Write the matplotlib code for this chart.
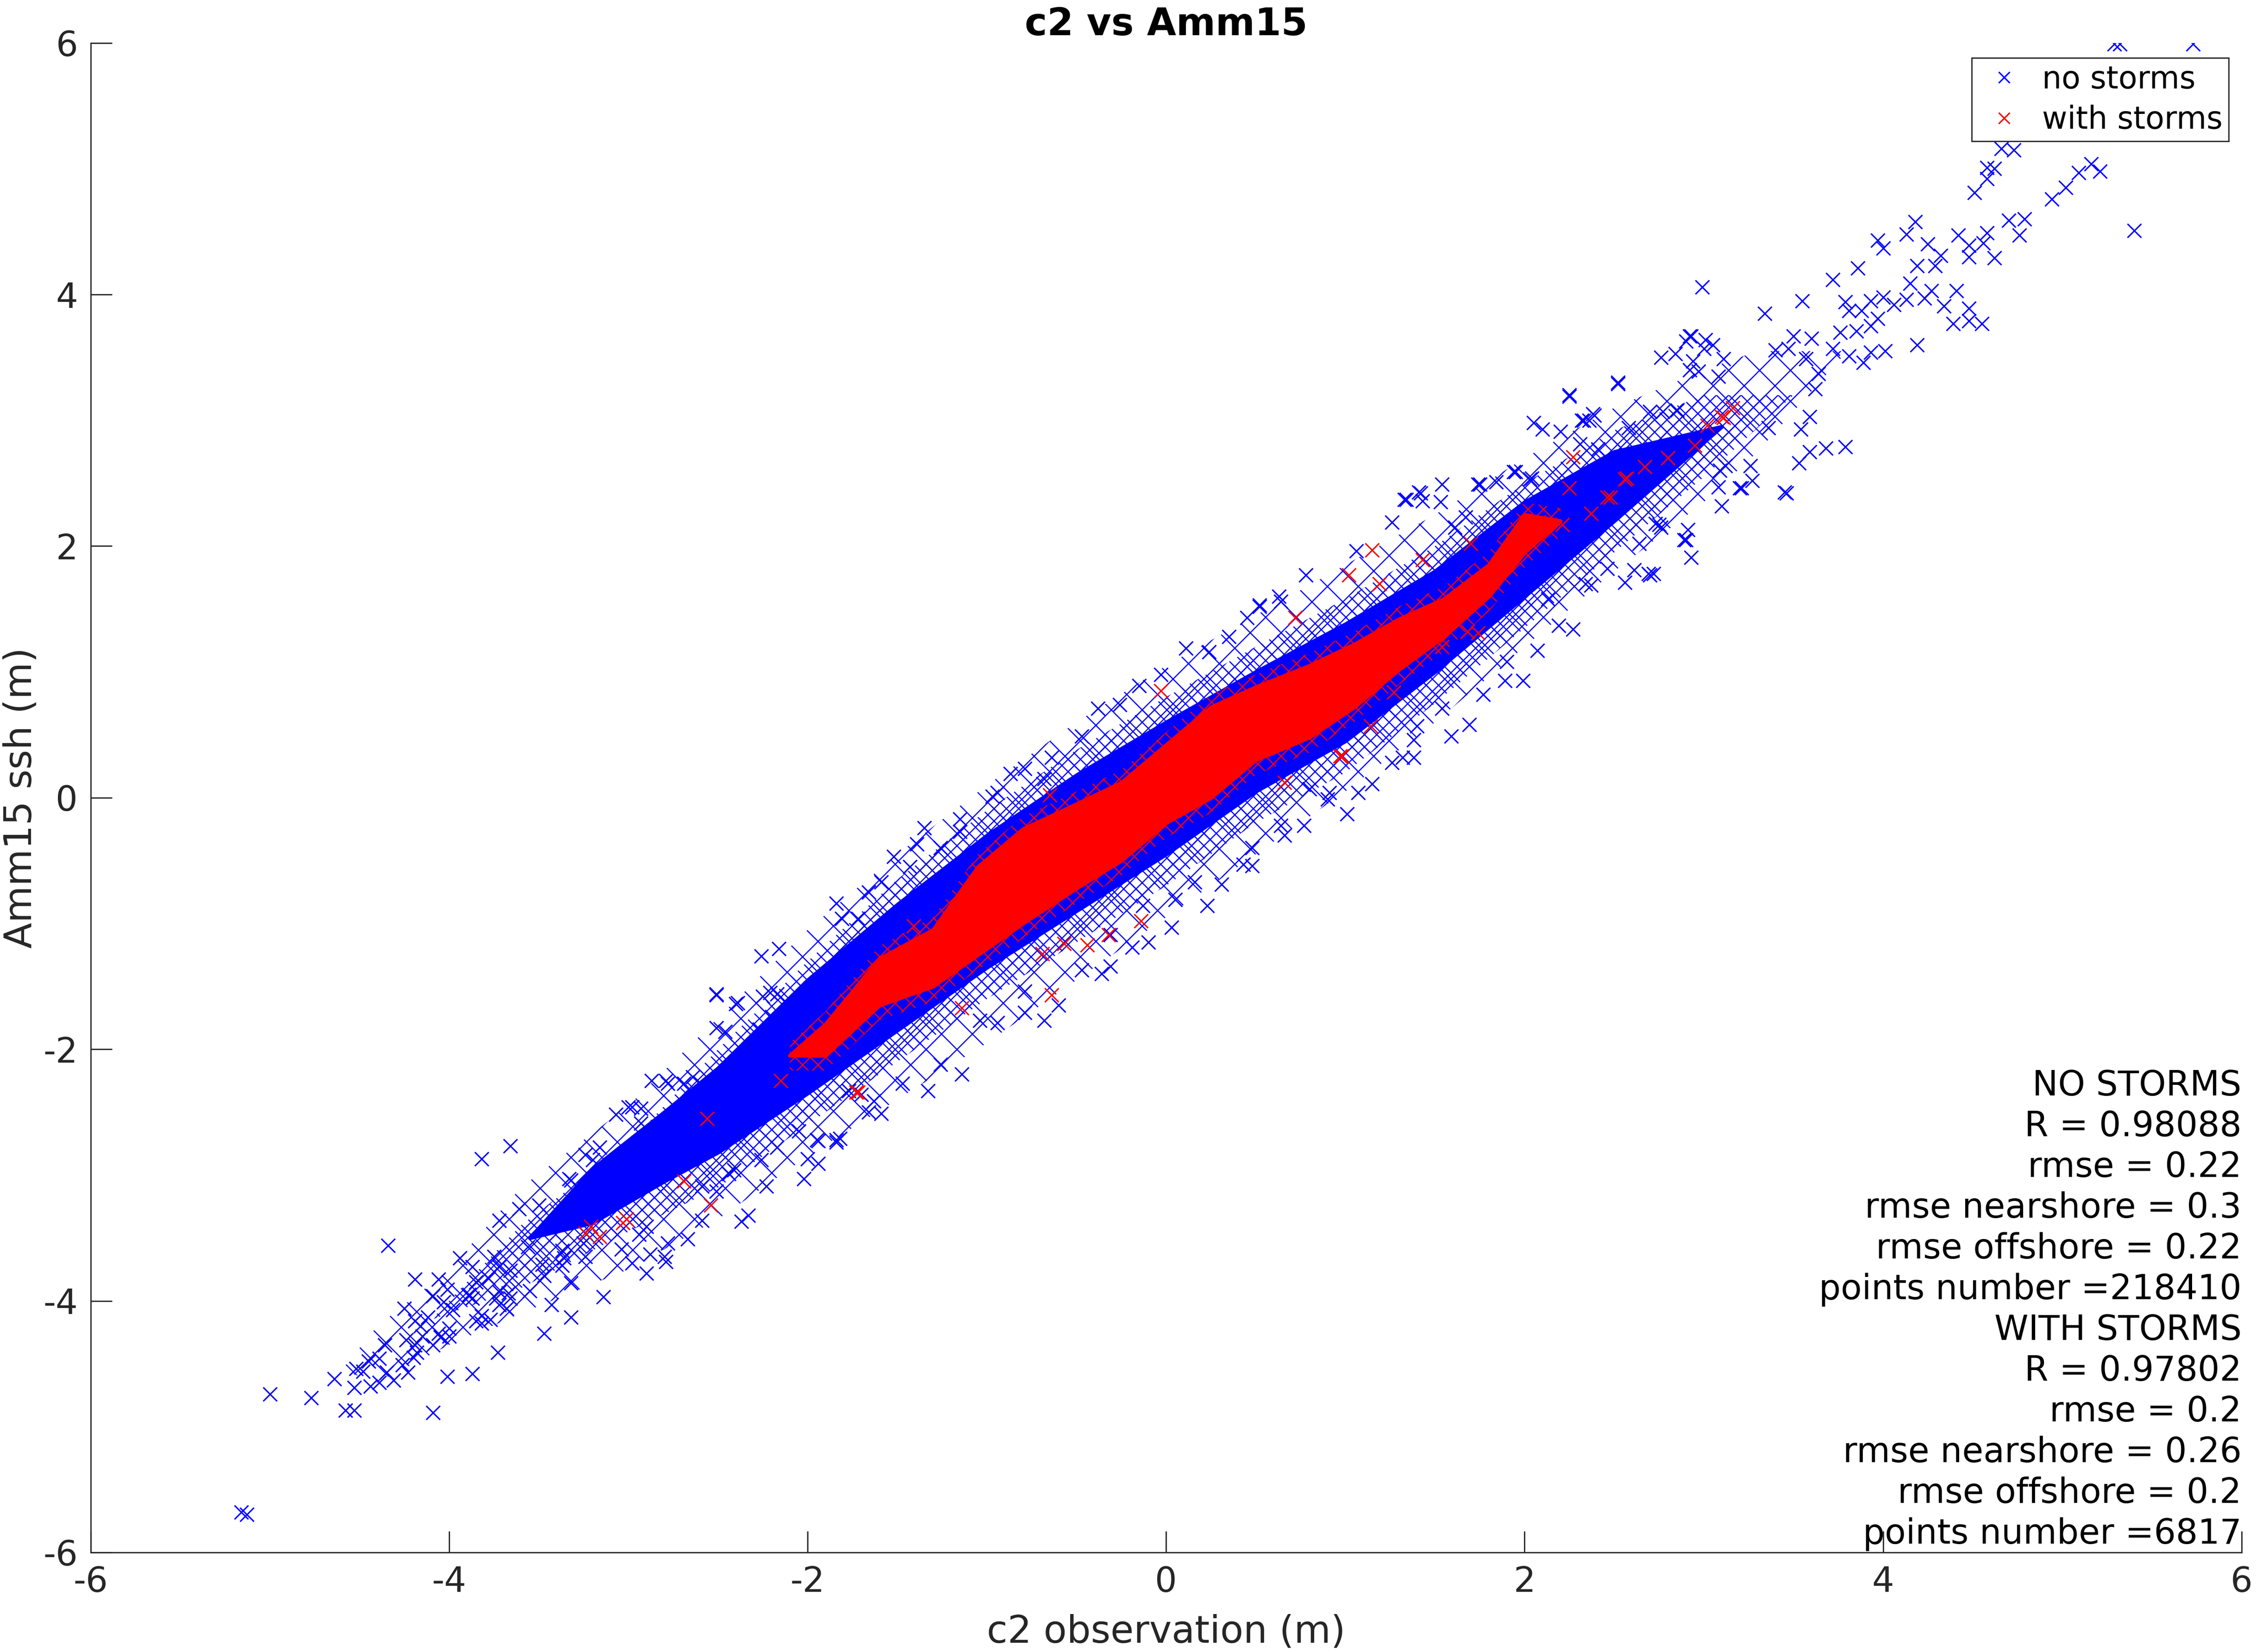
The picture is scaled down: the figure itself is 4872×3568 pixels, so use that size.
import numpy as np
import matplotlib
matplotlib.use("Agg")
import matplotlib.pyplot as plt

plt.rcParams['font.family'] = ['DejaVu Sans']
plt.rcParams['axes.unicode_minus'] = False
plt.rcParams['hatch.linewidth'] = 0.45

# ---- data ----
# edges of the "no storms" cloud (too many overlapping markers to list one by one)
outer_x = [-4.6, -4.4, -4.0, -3.6, -3.0, -2.5, -2.0, -1.5, -1.0, -0.5, 0.0, 0.5, 1.0,
           1.5, 2.0, 2.5, 3.0, 3.3, 3.8]
outer_lo = [-4.55, -4.65, -4.35, -4.1, -3.75, -3.35, -2.85, -2.4, -1.95, -1.45, -0.95, -0.45,
            0.05, 0.6, 1.2, 1.8, 2.35, 2.75, 3.55]
outer_hi = [-4.55, -4.2, -3.75, -3.1, -2.45, -1.75, -1.05, -0.45, 0.1, 0.6, 1.05, 1.45,
            1.85, 2.25, 2.7, 3.1, 3.4, 3.55, 3.55]

mid_x = [-4.1, -3.6, -3.0, -2.5, -2.0, -1.5, -1.0, -0.5, 0.0, 0.5, 1.0, 1.5, 2.0,
         2.5, 3.0, 3.5]
mid_lo = [-4.15, -3.9, -3.45, -3.1, -2.6, -2.1, -1.6, -1.15, -0.7, -0.2, 0.2, 0.75,
          1.35, 1.95, 2.55, 3.2]
mid_hi = [-4.15, -3.4, -2.75, -2.0, -1.3, -0.65, -0.1, 0.38, 0.8, 1.2, 1.58, 2.0,
          2.5, 2.92, 3.2, 3.2]

core_x = [-3.55, -3.2, -2.8, -2.5, -2.0, -1.5, -1.0, -0.5, 0.0, 0.5, 1.0, 1.5, 2.0,
          2.5, 3.1]
core_lo = [-3.5, -3.38, -3.05, -2.82, -2.35, -1.85, -1.35, -0.9, -0.45, 0.05, 0.45, 1.0,
           1.6, 2.2, 2.95]
core_hi = [-3.5, -2.95, -2.5, -2.15, -1.45, -0.85, -0.3, 0.18, 0.6, 1.0, 1.38, 1.8,
           2.35, 2.75, 2.95]

# edges of the dense "with storms" cloud
red_x = [-2.1, -1.9, -1.6, -1.3, -1.05, -0.8, -0.5, -0.25, 0.0, 0.25, 0.5, 0.8,
         1.05, 1.3, 1.55, 1.8, 2.0, 2.2]
red_lo = [-2.05, -2.05, -1.65, -1.5, -1.25, -1.0, -0.72, -0.5, -0.2, 0.0, 0.3, 0.48,
          0.72, 1.02, 1.28, 1.6, 1.95, 2.2]
red_hi = [-2.05, -1.8, -1.28, -1.05, -0.55, -0.25, -0.05, 0.12, 0.42, 0.72, 0.88, 1.05,
          1.22, 1.42, 1.58, 1.85, 2.25, 2.2]

# individual "no storms" points outside the dense part (obs, model)
blue_pts = [
    (-5.16, -5.68), (-5.13, -5.70), (-5.00, -4.74), (-4.77, -4.77), (-4.58, -4.87),
    (-4.53, -4.87), (-4.09, -4.89), (-4.64, -4.62), (-4.53, -4.69), (-4.44, -4.68),
    (-4.39, -4.65), (-4.31, -4.63), (-4.35, -4.57), (-4.52, -4.54), (-4.48, -4.56),
    (-4.45, -4.48), (-4.39, -4.46), (-4.36, -4.35), (-4.26, -4.51), (-4.23, -4.57),
    (-4.20, -4.45), (-4.18, -4.41), (-4.24, -4.31), (-4.19, -4.35), (-4.15, -4.28),
    (-4.16, -4.20), (-4.19, -4.16), (-4.12, -4.13), (-4.09, -4.35), (-4.05, -4.29),
    (-4.01, -4.60), (-3.87, -4.58), (-3.73, -4.41), (-4.00, -4.28), (-4.00, -4.22),
    (-4.06, -4.26), (-4.34, -3.56), (-4.19, -3.83), (-4.06, -3.83), (-4.09, -3.96),
    (-4.25, -4.06), (-4.01, -3.91), (-3.98, -4.07), (-4.03, -4.01), (-3.89, -3.95),
    (-3.87, -3.98), (-3.94, -3.66), (-3.87, -3.73), (-3.85, -3.85), (-3.82, -4.12),
    (-3.85, -4.16), (-3.77, -4.15), (-3.82, -4.18), (-3.74, -3.98), (-3.72, -4.03),
    (-3.67, -3.94), (-3.66, -3.98), (-3.68, -4.06), (-3.72, -3.93), (-3.78, -3.82),
    (-3.72, -3.73), (-3.75, -3.65), (-3.66, -3.76), (-3.72, -3.36), (-3.82, -2.87),
    (-3.66, -2.77), (-3.61, -3.27), (-3.55, -3.92), (-3.47, -4.26), (-3.43, -4.03),
    (-3.32, -4.13), (-3.32, -3.86), (-3.14, -3.97), (-3.56, -3.57), (-3.50, -3.24),
    (-3.48, -3.71), (-3.47, -3.80), (-3.37, -3.72), (-3.36, -3.66), (-3.37, -3.60),
    (-3.32, -3.04), (-3.24, -3.65), (-3.25, -3.54), (-3.04, -3.59), (-2.98, -3.70),
    (-2.90, -3.78), (-2.88, -3.63), (-2.80, -3.65), (-2.79, -3.69), (-2.78, -3.54),
    (-2.67, -3.51), (-2.59, -3.36), (-2.37, -3.37), (-2.33, -3.32), (-2.26, -2.88),
    (-2.23, -3.09), (-2.02, -3.03), (-1.94, -2.91), (-2.00, -2.87), (-1.84, -2.74),
    (-1.94, -2.73), (-2.17, -2.78), (-2.05, -2.65), (-2.41, -2.96), (-2.44, -2.99),
    (-2.51, -3.13), (-2.59, -3.09), (-2.94, -3.47), (-2.90, -3.41), (-3.00, -2.46),
    (-3.07, -2.52), (-2.87, -2.25), (-2.79, -2.25), (-2.51, -1.57), (-2.40, -1.64),
    (-2.25, -1.58), (-2.17, -1.56), (-2.51, -1.83), (-2.46, -1.86), (-2.27, -1.84),
    (-2.20, -1.74), (-3.16, -2.78), (-3.24, -2.84), (-3.33, -3.03), (-3.20, -2.88),
    (-2.93, -2.47), (-2.93, -2.59), (-2.78, -2.27), (-2.69, -2.27), (-2.64, -2.22),
    (-2.98, -2.46), (-1.82, -2.71), (-1.66, -2.50), (-1.70, -2.36), (-1.63, -2.41),
    (-1.77, -2.33),
    (-2.51, -1.56), (-2.39, -1.63), (-2.26, -1.26), (-2.16, -1.20), (-2.21, -1.55),
    (-1.84, -0.84), (-1.81, -0.96), (-1.72, -0.96), (-1.66, -0.75), (-1.59, -0.67),
    (-1.52, -0.47), (-1.43, -0.55), (-1.35, -0.24), (-1.39, -0.37), (-1.26, -0.40),
    (-1.15, -0.17), (-1.15, -0.27), (-0.97, 0.01), (-0.94, 0.04), (-0.87, 0.19),
    (-0.79, 0.23), (-0.64, 0.32), (-0.68, 0.15), (-0.47, 0.49), (-0.38, 0.71),
    (-0.26, 0.74), (-0.15, 0.89), (-0.03, 0.98), (0.11, 1.19), (0.24, 1.16),
    (0.35, 1.28), (0.45, 1.43), (0.52, 1.53), (0.64, 1.56),
    (-1.14, -2.20), (-1.26, -2.12), (-1.33, -2.33), (-1.47, -2.27), (-1.59, -2.51),
    (-1.84, -2.72), (-1.95, -2.72), (-0.79, -1.71), (-0.68, -1.77), (-0.60, -1.65),
    (-0.94, -1.79), (-1.04, -1.77), (-0.36, -1.40), (-0.31, -1.34), (-0.19, -1.19),
    (-0.10, -1.15), (0.03, -1.03), (0.23, -0.86), (0.31, -0.69), (0.43, -0.53),
    (0.48, -0.54), (0.66, -0.30), (0.77, -0.22), (0.90, -0.01), (0.91, 0.04),
    (1.07, 0.04), (1.15, 0.11), (1.26, 0.28), (1.32, 0.32), (1.38, 0.46),
    (1.40, 0.57), (0.16, -0.67), (0.05, -0.81), (-0.13, -0.86), (-0.31, -1.09),
    (-0.47, -1.37), (-0.79, -1.54), (0.48, -0.40), (0.64, -0.22), (1.01, -0.13),
    (0.80, 0.07),
    (2.76, 3.50), (2.84, 3.53), (2.93, 3.67), (2.52, 3.30), (2.25, 3.20),
    (2.05, 2.98), (2.10, 2.93), (2.20, 2.91), (2.33, 3.00), (2.38, 3.05),
    (1.54, 2.49), (1.34, 2.37), (1.42, 2.42), (1.26, 2.19), (1.06, 1.96),
    (0.78, 1.77), (0.63, 1.60), (0.52, 1.52), (1.84, 2.51), (1.74, 2.49),
    (1.95, 2.59), (2.03, 2.53), (1.61, 2.15), (1.67, 2.23),
    (2.93, 1.91), (2.89, 2.05), (2.91, 2.13), (3.10, 2.32), (3.21, 2.46),
    (3.27, 2.52), (3.45, 2.43), (2.70, 1.77), (2.56, 1.71), (2.64, 2.02),
    (2.75, 2.17), (2.27, 1.34), (2.19, 1.37), (2.07, 1.17), (1.99, 0.93),
    (1.89, 0.93), (1.77, 0.82), (1.69, 0.58), (1.59, 0.49), (1.38, 0.32),
    (1.54, 0.71), (1.90, 1.08), (2.13, 1.58), (2.37, 1.69), (2.46, 1.82),
    (2.34, 1.70), (2.61, 1.81), (2.72, 1.78),
    (5.32, 5.99), (5.29, 5.99), (5.73, 5.99), (4.66, 5.16), (4.73, 5.15),
    (4.58, 5.01), (4.62, 5.00), (4.58, 4.92), (4.51, 4.81), (5.16, 5.04),
    (5.09, 4.97), (5.21, 4.98), (5.02, 4.85), (4.94, 4.76), (5.40, 4.51),
    (4.70, 4.59), (4.79, 4.60), (4.76, 4.47), (4.18, 4.58), (4.13, 4.48),
    (3.97, 4.43), (4.00, 4.37), (4.25, 4.40), (4.42, 4.47), (4.58, 4.49),
    (4.56, 4.41), (4.48, 4.39), (4.48, 4.30), (4.32, 4.31), (4.62, 4.29),
    (4.19, 4.23), (4.29, 4.23), (3.86, 4.21), (3.72, 4.12), (4.15, 4.09),
    (4.27, 4.03), (4.41, 4.03), (4.23, 3.97), (4.34, 3.91), (4.48, 3.89),
    (4.39, 3.77), (4.48, 3.79), (4.55, 3.77), (4.19, 3.60), (3.93, 3.95),
    (4.00, 3.98), (4.06, 3.92), (4.13, 3.96), (3.79, 3.94), (3.81, 3.87),
    (3.88, 3.87), (3.97, 3.81), (3.93, 3.75), (3.55, 3.95), (3.34, 3.85),
    (2.99, 4.06), (2.52, 3.29), (2.25, 3.19), (2.92, 3.67), (2.90, 3.63),
    (3.01, 3.64), (3.05, 3.60), (3.00, 3.57), (2.94, 3.47), (3.11, 3.49),
    (2.92, 3.40), (2.97, 3.39), (3.08, 3.35), (3.50, 3.67), (3.60, 3.65),
    (3.40, 3.56), (3.47, 3.57), (3.72, 3.57), (3.76, 3.70), (3.85, 3.71),
    (3.81, 3.51), (3.93, 3.54), (4.01, 3.55), (3.89, 3.46), (3.57, 3.49),
    (3.64, 3.37), (3.62, 3.25), (3.59, 3.03), (3.54, 2.93), (3.36, 2.94),
    (3.59, 2.75), (3.68, 2.78), (3.79, 2.79), (3.53, 2.66), (3.46, 2.42),
    (3.26, 2.64), (3.20, 2.46), (3.09, 2.60), (3.12, 2.64), (3.08, 2.47),
    (2.90, 2.05), (2.76, 2.15), (2.73, 2.18), (2.69, 1.78), (2.32, 3.00),
    (2.39, 3.04), (2.36, 3.00), (2.70, 3.07), (2.77, 3.07), (2.85, 3.08),
    (2.58, 2.94), (1.94, 2.59), (2.04, 2.54), (1.75, 2.49), (1.41, 2.43),
    (1.43, 2.36), (1.53, 2.35), (1.33, 2.37), (2.31, 2.81), (2.41, 2.77),
]

# individual "with storms" points
red_pts = [
    (-2.54, -3.24), (-2.69, -3.05), (-3.21, -3.41), (-3.16, -3.49), (-3.24, -3.46),
    (-3.03, -3.38), (-3.01, -3.35), (-2.56, -2.55), (-2.15, -2.25), (-1.73, -2.34),
    (-0.64, -1.57), (-1.72, -2.34), (-1.14, -1.67), (-0.57, -1.16), (-0.44, -1.17),
    (-0.32, -1.09), (-0.69, -1.24), (-0.14, -0.98), (1.14, 0.57), (0.98, 0.33),
    (0.66, 0.12), (-0.03, 0.85), (-0.65, 0.02), (-1.41, -1.02), (2.27, 2.71),
    (3.16, 3.10), (3.11, 3.02), (3.02, 2.96), (2.80, 2.70), (2.67, 2.63),
    (2.57, 2.54), (2.48, 2.39), (2.25, 2.46), (2.21, 2.17), (2.04, 2.16),
    (2.08, 2.19), (1.15, 1.97), (1.02, 1.77), (1.19, 1.70), (0.72, 1.43),
    (1.43, 1.89), (1.70, 2.02), (2.95, 2.80), (3.10, 3.03), (2.56, 2.53),
    (2.46, 2.39), (2.37, 2.26), (1.74, 1.31), (1.68, 1.32), (1.54, 1.20),
    (1.27, 0.84), (0.97, 0.33), (2.03, 2.12), (2.09, 2.17),
]

stats_lines = ["NO STORMS", "R = 0.98088", "rmse = 0.22", "rmse nearshore = 0.3",
               "rmse offshore = 0.22", "points number =218410", "WITH STORMS",
               "R = 0.97802", "rmse = 0.2", "rmse nearshore = 0.26",
               "rmse offshore = 0.2", "points number =6817"]

BLUE = (0, 0, 1)
RED = (1, 0, 0)
DARK = '#262626'

fig = plt.figure(figsize=(12.18, 8.92), dpi=400)
ax = fig.add_axes([0.0402, 0.0603, 0.9534, 0.9137])

# no storms: sparse fringe, medium zone, solid core
ax.fill_between(outer_x, outer_lo, outer_hi, facecolor='none', edgecolor=BLUE,
                hatch='xx', linewidth=0)
ax.fill_between(mid_x, mid_lo, mid_hi, facecolor='none', edgecolor=BLUE,
                hatch='xxxxx', linewidth=0)
ax.fill_between(core_x, core_lo, core_hi, facecolor=BLUE, edgecolor=BLUE, linewidth=1.5)

bx, by = np.array(blue_pts).T
ax.plot(bx, by, 'x', color=BLUE, ms=5.5, mew=0.55, label='no storms')

# with storms
ax.fill_between(red_x, np.array(red_lo) - 0.12, np.array(red_hi) + 0.1,
                facecolor='none', edgecolor=RED, hatch='xxxx', linewidth=0)
ax.fill_between(red_x, red_lo, red_hi, facecolor=RED, edgecolor=RED, linewidth=1.5)
rx, ry = np.array(red_pts).T
ax.plot(rx, ry, 'x', color=RED, ms=5.5, mew=0.55, label='with storms')

ax.set_xlim(-6, 6)
ax.set_ylim(-6, 6)
ax.set_xticks(range(-6, 7, 2))
ax.set_yticks(range(-6, 7, 2))
ax.tick_params(direction='in', length=8.3, width=0.5, labelsize=13.5,
               color=DARK, labelcolor=DARK, pad=5)
for side in ['top', 'right']:
    ax.spines[side].set_visible(False)
for side in ['left', 'bottom']:
    ax.spines[side].set_color(DARK)
    ax.spines[side].set_linewidth(0.5)

ax.set_title('c2 vs Amm15', fontsize=14.7, fontweight='bold', pad=1)
ax.set_xlabel('c2 observation (m)', fontsize=14.7, color=DARK)
ax.set_ylabel('Amm15 ssh (m)', fontsize=14.7, color=DARK)
ax.xaxis.set_label_coords(0.5, -0.0408)
ax.yaxis.set_label_coords(-0.0239, 0.5)

leg = ax.legend(loc='upper right', bbox_to_anchor=(0.994, 0.990), borderaxespad=0,
                fontsize=12, borderpad=0.2, handlelength=1.7, handletextpad=0.38,
                labelspacing=0.32, fancybox=False, framealpha=1, markerscale=0.8)
leg.get_frame().set_edgecolor(DARK)
leg.get_frame().set_linewidth(0.5)

n = len(stats_lines)
for i, line in enumerate(stats_lines):
    ax.text(1.0, 0.0058 + (n - 1 - i) * 0.027, line, transform=ax.transAxes,
            ha='right', va='baseline', fontsize=13.4)

fig.savefig('out.png', dpi=400)
